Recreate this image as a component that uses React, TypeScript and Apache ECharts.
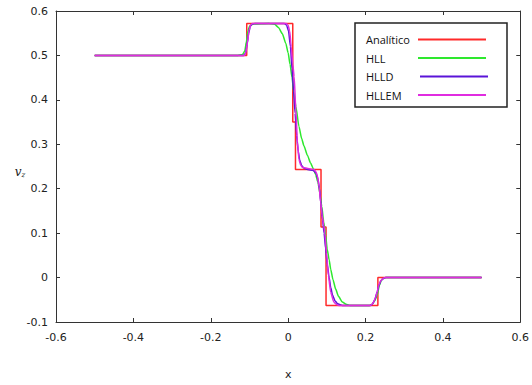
import React, { useEffect, useRef } from "react";
import * as echarts from "echarts";

const seriesNames = ["Analítico", "HLL", "HLLD", "HLLEM"];
const seriesColors = ["#ff2a2a", "#2ee82e", "#5a14d8", "#e02ce0"];

const xRange = [-0.6, 0.6];
const xStep = 0.2;
const yRange = [-0.1, 0.6];
const yStep = 0.1;

const analitico: number[][] = [
  [-0.5, 0.5], [-0.107, 0.5], [-0.107, 0.572], [0.012, 0.572], [0.012, 0.35],
  [0.019, 0.35], [0.019, 0.243], [0.085, 0.243], [0.085, 0.114], [0.098, 0.114],
  [0.098, -0.063], [0.232, -0.063], [0.232, 0], [0.5, 0],
];

const hll: number[][] = [
  [-0.5, 0.5], [-0.13, 0.5], [-0.118, 0.502], [-0.112, 0.51], [-0.108, 0.53],
  [-0.104, 0.555], [-0.099, 0.567], [-0.09, 0.571], [-0.05, 0.572], [-0.035, 0.57],
  [-0.025, 0.563], [-0.015, 0.549], [-0.006, 0.527], [0.0, 0.506], [0.005, 0.48],
  [0.01, 0.45], [0.015, 0.415], [0.02, 0.385], [0.028, 0.34], [0.035, 0.313],
  [0.041, 0.296], [0.05, 0.275], [0.058, 0.258], [0.065, 0.245], [0.071, 0.232],
  [0.077, 0.215], [0.082, 0.19], [0.087, 0.16], [0.092, 0.125], [0.097, 0.095],
  [0.101, 0.064], [0.106, 0.04], [0.11, 0.019], [0.116, -0.005], [0.123, -0.026],
  [0.13, -0.042], [0.14, -0.055], [0.15, -0.06], [0.16, -0.063], [0.21, -0.063],
  [0.217, -0.06], [0.224, -0.052], [0.23, -0.04], [0.236, -0.018], [0.241, -0.006],
  [0.246, -0.002], [0.252, 0], [0.5, 0],
];

const hlld: number[][] = [
  [-0.5, 0.5], [-0.115, 0.5], [-0.11, 0.505], [-0.106, 0.525], [-0.102, 0.55],
  [-0.098, 0.565], [-0.093, 0.571], [-0.085, 0.572], [-0.01, 0.572], [-0.004, 0.568],
  [0.001, 0.555], [0.006, 0.52], [0.01, 0.47], [0.014, 0.42], [0.018, 0.37],
  [0.022, 0.32], [0.026, 0.285], [0.03, 0.264], [0.035, 0.252], [0.041, 0.246],
  [0.05, 0.243], [0.065, 0.241], [0.072, 0.235], [0.077, 0.222], [0.081, 0.2],
  [0.085, 0.165], [0.089, 0.13], [0.093, 0.1], [0.097, 0.065], [0.101, 0.03],
  [0.106, 0.0], [0.11, -0.022], [0.115, -0.04], [0.121, -0.052], [0.128, -0.059],
  [0.14, -0.063], [0.212, -0.063], [0.218, -0.06], [0.224, -0.05], [0.23, -0.033],
  [0.235, -0.017], [0.24, -0.007], [0.246, -0.002], [0.252, 0], [0.5, 0],
];

const hllem: number[][] = [
  [-0.5, 0.5], [-0.113, 0.5], [-0.109, 0.507], [-0.105, 0.53], [-0.101, 0.556],
  [-0.097, 0.568], [-0.092, 0.572], [-0.005, 0.572], [0.0, 0.568], [0.004, 0.555],
  [0.008, 0.52], [0.012, 0.48], [0.0155, 0.453], [0.02, 0.378], [0.024, 0.304],
  [0.028, 0.266], [0.032, 0.254], [0.037, 0.248], [0.054, 0.245], [0.067, 0.243],
  [0.072, 0.238], [0.076, 0.228], [0.08, 0.205], [0.084, 0.17], [0.088, 0.14],
  [0.092, 0.118], [0.095, 0.1], [0.099, 0.057], [0.104, 0.005], [0.11, -0.033],
  [0.118, -0.055], [0.124, -0.06], [0.131, -0.063], [0.212, -0.063], [0.217, -0.06],
  [0.221, -0.055], [0.226, -0.045], [0.23, -0.033], [0.234, -0.018], [0.239, -0.007],
  [0.247, -0.001], [0.252, 0], [0.5, 0],
];

const seriesData = [analitico, hll, hlld, hllem];

export default function App() {
  const ref = useRef<HTMLDivElement>(null);
  useEffect(() => {
    if (!ref.current) return;
    const chart = echarts.init(ref.current, null, { renderer: "svg" });
    const axisColor = "#333";
    const labelFont = { fontFamily: "DejaVu Sans", fontSize: 11, color: "#222" };
    const baseX = {
      type: "value" as const,
      min: xRange[0],
      max: xRange[1],
      interval: xStep,
      splitLine: { show: false },
      axisLine: { show: true, onZero: false, lineStyle: { color: axisColor, width: 1 } },
      axisTick: { show: true, inside: true, length: 4, lineStyle: { color: axisColor } },
    };
    const baseY = {
      type: "value" as const,
      min: yRange[0],
      max: yRange[1],
      interval: yStep,
      splitLine: { show: false },
      axisLine: { show: true, onZero: false, lineStyle: { color: axisColor, width: 1 } },
      axisTick: { show: true, inside: true, length: 4, lineStyle: { color: axisColor } },
    };
    const legendX = 355, legendY = 23, rowH = 18.5;
    const legendItems: any[] = [
      {
        type: "rect",
        shape: { x: legendX, y: legendY, width: 152, height: 84 },
        style: { fill: "#fff", stroke: "#222", lineWidth: 1.5 },
        z: 10,
      },
    ];
    seriesNames.forEach((name, i) => {
      const cy = legendY + 16.5 + i * rowH;
      legendItems.push({
        type: "text",
        x: legendX + 11,
        y: cy,
        style: {
          text: name,
          fontFamily: "Open Sans",
          fontSize: 11,
          fill: "#111",
          verticalAlign: "middle",
          align: "left",
        },
        z: 11,
      });
      legendItems.push({
        type: "line",
        shape: { x1: legendX + 63 + (i === 2 ? 2 : 0), y1: cy, x2: legendX + 131 + (i === 2 ? 2 : 0), y2: cy },
        style: { stroke: seriesColors[i], lineWidth: 2 },
        z: 11,
      });
    });
    legendItems.push({
      type: "text",
      x: 20,
      y: 172,
      style: {
        text: "{v|v}{z|z}",
        rich: {
          v: { fontFamily: "DejaVu Serif", fontStyle: "italic", fontSize: 12, fill: "#222" },
          z: { fontFamily: "DejaVu Serif", fontStyle: "italic", fontSize: 7, fill: "#222", padding: [6, 0, 0, 0] },
        },
        align: "center",
        verticalAlign: "middle",
      },
    });

    chart.setOption({
      animation: false,
      backgroundColor: "#fff",
      grid: { left: 56, right: 10, top: 11, bottom: 62, containLabel: false },
      xAxis: [
        {
          ...baseX,
          position: "bottom",
          name: "x",
          nameLocation: "middle",
          nameGap: 47,
          nameTextStyle: { fontFamily: "DejaVu Sans", fontSize: 11, color: "#222" },
          axisLabel: { ...labelFont, margin: 10 },
        },
        { ...baseX, position: "top", axisLabel: { show: false } },
      ],
      yAxis: [
        { ...baseY, position: "left", axisLabel: { ...labelFont, margin: 8 } },
        { ...baseY, position: "right", axisLabel: { show: false } },
      ],
      series: seriesNames.map((name, i) => ({
        name,
        type: "line",
        data: seriesData[i],
        showSymbol: false,
        symbol: "none",
        smooth: i === 0 ? false : 0.2,
        smoothMonotone: "x",
        lineStyle: { color: seriesColors[i], width: 1.5 },
        z: 2 + i,
      })),
      graphic: legendItems,
    });
    return () => chart.dispose();
  }, []);
  return (
    <div
      ref={ref}
      style={{ position: "fixed", left: 0, top: 0, width: 532, height: 385, background: "#fff" }}
    />
  );
}
